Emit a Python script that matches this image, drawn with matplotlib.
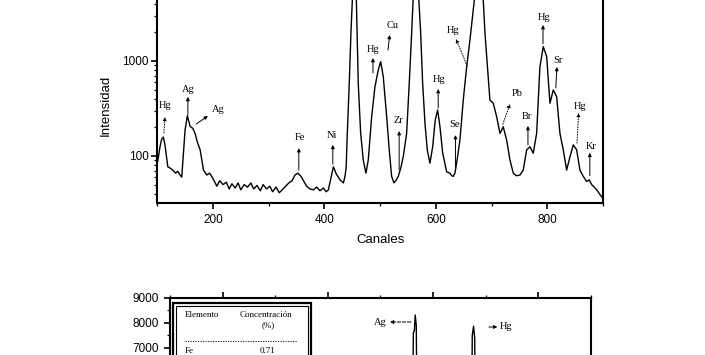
import matplotlib.pyplot as plt
from matplotlib.patches import Rectangle
from matplotlib.ticker import MultipleLocator, FuncFormatter, LogLocator

# XRF spectrum (top panel), channels vs counts
channels = [101, 105, 108, 111, 114, 119, 124, 128, 133, 137, 141, 144, 147, 150,
            154, 159, 164, 168, 172, 177, 183, 189, 194, 200, 204, 207, 212, 218,
            224, 229, 234, 240, 245, 250, 256, 262, 268, 273, 279, 285, 290, 296,
            302, 307, 313, 319, 324, 330, 336, 342, 347, 352, 358, 363, 368, 374,
            380, 386, 392, 398, 403, 407, 412, 416, 421, 428, 434, 437, 439, 441,
            444.5, 447.5, 451, 454, 457, 460.6, 464.9, 469.6, 474.4, 478.6, 484.7,
            490.6, 496.5, 500.8, 505.5, 511.6, 516.2, 520.5, 524.7, 528, 532.4, 537,
            541.3, 547.4, 552.1, 556.4, 560, 564, 568, 572.6, 576.1, 580.3, 584.4,
            589.2, 594.1, 598.7, 603, 607.2, 612, 619.2, 625.1, 628, 631, 634, 637.1,
            643, 649, 655.1, 661, 666.9, 672, 678, 684, 687.9, 693.8, 696.8, 702.8,
            708.9, 714.8, 720.7, 726.8, 732.7, 738.7, 744, 750.7, 756.6, 762.7, 768.6,
            774.5, 780.6, 786.5, 792.5, 798.6, 804.5, 810.4, 816.5, 822.4, 828.4,
            834.4, 840.4, 846.3, 852.4, 858.3, 864.2, 870.3, 875, 879.3, 884, 888.2,
            892, 896, 900]
counts = [88, 125, 150, 158, 130, 77, 74, 71, 66, 69, 63, 60, 107, 188,
          265, 205, 195, 172, 140, 116, 71, 63, 66, 58, 52, 48, 55, 50,
          53, 45, 51, 46, 52, 44, 50, 47, 52, 45, 49, 43, 50, 45,
          48, 42, 47, 41, 44, 48, 52, 55, 63, 66, 61, 54, 48, 45,
          44, 47, 43, 46, 42, 44, 60, 77, 65, 56, 52, 62, 77, 175,
          587, 1972, 6000, 9000, 5000, 587, 175, 91, 66, 91, 259,
          536, 804, 984, 684, 259, 116, 61, 52, 55, 61, 75,
          98, 173, 582, 1958, 6000, 9500, 6000, 1972, 587, 222, 116,
          84, 125, 239, 305, 203, 108, 68, 66, 62, 61, 66, 84,
          147, 388, 871, 1664, 3444, 6500, 8000, 5500, 1972, 684, 388, 359,
          259, 173, 203, 147, 91, 66, 62, 63, 71, 116, 125,
          107, 173, 871, 1415, 1110, 359, 495, 421, 173, 116,
          71, 98, 131, 116, 71, 61, 54, 56, 50, 47, 44,
          41, 38, 36]

# peak labels: (text, text pos, arrow head, arrow tail, dotted?)
peak_labels = [
    ("Hg", (114, 344), (114, 258), (112, 175), True),
    ("Ag", (155, 507), (155, 418), (155, 270), False),
    ("Ag", (209, 305), (191, 264), (170, 217), False),
    ("Fe", (356, 158), (354, 121), (354, 71), False),
    ("Ni", (413, 166), (415, 131), (415, 82), False),
    ("Hg", (487, 1306), (487, 1075), (487, 748), False),
    ("Cu", (523, 2336), (517, 1879), (514, 1306), False),
    ("Zr", (532, 239), (534, 183), (534, 71), False),
    ("Hg", (605, 631), (604, 507), (604, 320), False),
    ("Se", (634, 212), (635, 166), (635, 75), False),
    ("Hg", (630, 2070), (636, 1707), (656, 886), True),
    ("Pb", (745, 460), (733, 353), (720, 217), True),
    ("Br", (763, 258), (765, 207), (765, 131), False),
    ("Hg", (794, 2904), (792, 2393), (792, 1511), False),
    ("Sr", (819, 1024), (817, 865), (815, 520), False),
    ("Hg", (858, 328), (856, 284), (853, 137), True),
    ("Kr", (878, 127), (876, 108), (876, 62), False),
]

# bottom panel spectrum (only the top of the two strongest lines is visible)
energy = [-5, 18.0, 18.12, 18.22, 18.3, 18.4, 18.55, 23.6, 23.72, 23.84, 23.95, 24.1, 35]
counts_b = [300, 400, 7600, 7700, 8320, 7900, 400, 400, 7500, 7870, 7400, 400, 300]

table_head = ["Elemento", "Concentración", "(%)"]
table_rows = [("Fe", "0.71")]

sans = "Liberation Sans"
serif = "Liberation Serif"

fig = plt.figure(figsize=(7.05, 3.55), dpi=100)

# ---- top panel (its top is cut by the page edge)
ax = fig.add_axes([0.2230, 0.4282, 0.6326, 0.6676])
ax.plot(channels, counts, color="black", lw=1.0)
ax.set_yscale("log")
ax.set_xlim(100, 900)
ax.set_ylim(32, 10000)
ax.xaxis.set_major_locator(MultipleLocator(200))
ax.xaxis.set_minor_locator(MultipleLocator(100))
ax.yaxis.set_major_locator(LogLocator(base=10))
ax.yaxis.set_minor_locator(LogLocator(base=10, subs=range(2, 10)))
ax.yaxis.set_major_formatter(FuncFormatter(lambda v, p: f"{v:g}" if v < 5000 else ""))
ax.yaxis.set_minor_formatter(FuncFormatter(lambda v, p: ""))
ax.tick_params(which="major", direction="out", length=4, width=1.2, labelsize=8.5)
ax.tick_params(which="minor", direction="out", length=2.5, width=0.9)
ax.tick_params(axis="y", pad=2)
ax.tick_params(axis="x", pad=4)
for lab in ax.get_xticklabels() + ax.get_yticklabels():
    lab.set_fontfamily(sans)
for s in ax.spines.values():
    s.set_linewidth(1.5)
ax.set_xlabel("Canales", fontsize=9.5, family=sans, labelpad=6)
ax.set_ylabel("Intensidad", fontsize=9.5, family=sans)
ax.yaxis.set_label_coords(-0.101, 0.413)

for txt, tpos, head, tail, dotted in peak_labels:
    ax.text(tpos[0], tpos[1], txt, fontsize=7.5, family=serif,
            ha="center", va="center")
    ax.annotate("", xy=head, xytext=tail,
                arrowprops=dict(arrowstyle="-|>", lw=0.7, color="black",
                                mutation_scale=5,
                                linestyle=":" if dotted else "-",
                                shrinkA=0, shrinkB=0))

# ---- bottom panel (mostly below the page edge)
bx = fig.add_axes([0.2411, -0.4732, 0.5972, 0.6338])
bx.plot(energy, counts_b, color="black", lw=1.0)
bx.set_xlim(-5, 35)
bx.set_ylim(0, 9000)
bx.xaxis.set_major_locator(MultipleLocator(10))
bx.xaxis.set_minor_locator(MultipleLocator(5))
bx.yaxis.set_major_locator(MultipleLocator(1000))
bx.yaxis.set_minor_locator(MultipleLocator(500))
bx.yaxis.set_major_formatter(FuncFormatter(lambda v, p: f"{v:.0f}" if v >= 7000 else ""))
bx.tick_params(which="major", direction="out", length=4, width=1.2,
               labelsize=8.5, pad=4, top=True, labelbottom=False)
bx.tick_params(which="minor", direction="out", length=2.5, width=0.9, top=True)
for lab in bx.get_yticklabels():
    lab.set_fontfamily(sans)
for s in bx.spines.values():
    s.set_linewidth(1.5)

bx.text(14.95, 8000, "Ag", fontsize=7.5, family=serif, ha="center", va="center")
bx.annotate("", xy=(15.9, 8040), xytext=(17.9, 8040),
            arrowprops=dict(arrowstyle="-|>", lw=0.7, color="black",
                            mutation_scale=5, linestyle="--",
                            shrinkA=0, shrinkB=0))
bx.text(26.9, 7840, "Hg", fontsize=7.5, family=serif, ha="center", va="center")
bx.annotate("", xy=(26.1, 7840), xytext=(25.3, 7840),
            arrowprops=dict(arrowstyle="-|>", lw=0.7, color="black",
                            mutation_scale=5, shrinkA=0, shrinkB=0))

# inset table with double frame
bx.add_patch(Rectangle((-4.69, 5000), 13.06, 3788, fill=False, lw=1.6,
                       edgecolor="black"))
bx.add_patch(Rectangle((-4.4, 5000), 12.48, 3670, fill=False, lw=0.8,
                       edgecolor="black"))
bx.text(-3.57, 8320, table_head[0], fontsize=6.5, family=serif, ha="left", va="center")
bx.text(4.12, 8320, table_head[1], fontsize=6.5, family=serif, ha="center", va="center")
bx.text(4.3, 7920, table_head[2], fontsize=6.5, family=serif, ha="center", va="center")
bx.plot([-3.57, 7.07], [7292, 7292], color="black", lw=0.6, ls=(0, (1.5, 1.5)))
for i, (el, val) in enumerate(table_rows):
    bx.text(-3.57, 6880 - i * 400, el, fontsize=6.5, family=serif, ha="left", va="center")
    bx.text(4.22, 6880 - i * 400, val, fontsize=6.5, family=serif, ha="center", va="center")

fig.savefig("out.png", dpi=100)
